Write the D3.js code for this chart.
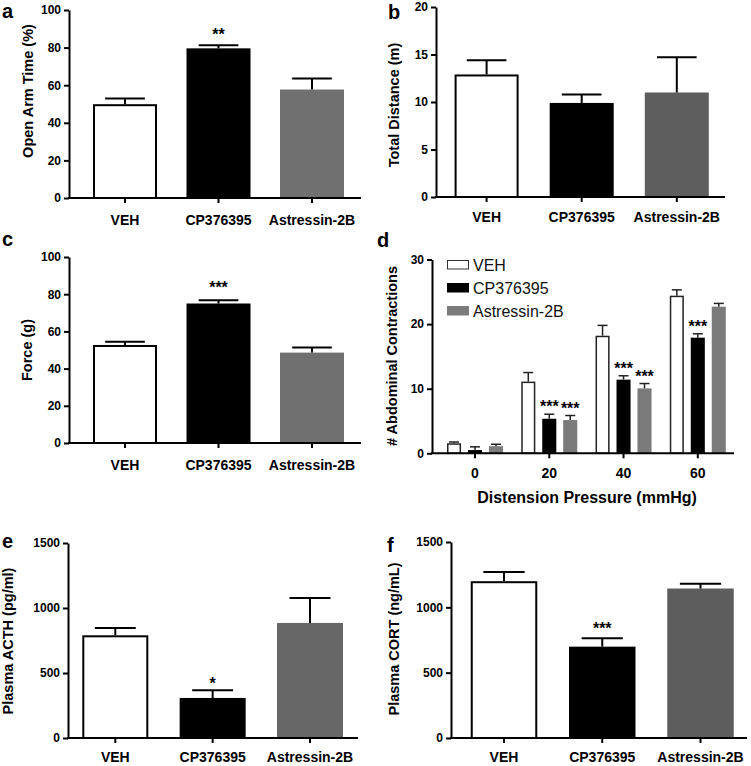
<!DOCTYPE html>
<html>
<head>
<meta charset="utf-8">
<script src="https://cdn.jsdelivr.net/npm/d3@7"></script>
<style>
body { margin: 0; background: #fff; }
svg { display: block; font-family: "Liberation Sans", Arial, sans-serif; }
</style>
</head>
<body>
<svg id="fig" width="751" height="766"></svg>
<script>
// treatment groups
var groups = ["VEH", "CP376395", "Astressin-2B"];

// a - elevated plus maze
var openArmMean = [49.9, 79.6, 57.7];
var openArmSem = [3.0, 1.7, 5.9];
var openArmSig = ["", "**", ""];

// b - locomotion
var distanceMean = [12.9, 9.9, 11.0];
var distanceSem = [1.5, 0.9, 3.7];
var distanceSig = ["", "", ""];

// c - force
var forceMean = [52.7, 75.0, 48.6];
var forceSem = [1.8, 1.8, 2.8];
var forceSig = ["", "***", ""];

// d - visceromotor response
var pressures = ["0", "20", "40", "60"];
var vehContractions = [1.55, 11.1, 18.2, 24.4];
var vehContractionsSem = [0.2, 1.4, 1.6, 0.9];
var cpContractions = [0.5, 5.35, 11.4, 17.9];
var cpContractionsSem = [0.5, 0.7, 0.6, 0.6];
var astContractions = [1.1, 5.15, 10.05, 22.7];
var astContractionsSem = [0.3, 0.7, 0.75, 0.5];
var vehContractionsSig = ["", "", "", ""];
var cpContractionsSig = ["", "***", "***", "***"];
var astContractionsSig = ["", "***", "***", ""];

// e - ACTH
var acthMean = [790, 308, 885];
var acthSem = [56, 59, 192];
var acthSig = ["", "*", ""];

// f - CORT
var cortMean = [1200, 699, 1144];
var cortSem = [71, 64, 36];
var cortSig = ["", "***", ""];

// tick values
var ticksPercent = [0, 20, 40, 60, 80, 100];
var ticksDistance = [0, 5, 10, 15, 20];
var ticksContractions = [0, 10, 20, 30];
var ticksHormone = [0, 500, 1000, 1500];

var svg = d3.select("#fig");
svg.append("rect").attr("width", 751).attr("height", 766).attr("fill", "#fff");

var boldFont = function(sel, size) {
  sel.attr("font-weight", "bold").attr("font-size", size).attr("fill", "#000");
};

var yAxisDraw = function(g, y, axisX, ticks) {
  var ax = g.append("g")
    .attr("transform", "translate(" + axisX + ",0)")
    .call(d3.axisLeft(y).tickValues(ticks).tickFormat(d3.format("d"))
      .tickSize(5).tickSizeOuter(0).tickPadding(3));
  ax.attr("font-family", null);
  ax.selectAll("path, line").attr("stroke", "#000").attr("stroke-width", 2);
  ax.selectAll("text").call(boldFont, "12px");
};

var barPanel = function(p)
{
  var g = svg.append("g");
  var step = (p.c2 - p.c0) / 2;
  var pad = 1 - p.barW / step;
  var x = d3.scaleBand()
    .domain(groups)
    .range([p.c0 - step / 2, p.c2 + step / 2])
    .paddingInner(pad)
    .paddingOuter(pad / 2);
  var y = d3.scaleLinear().domain([0, p.yMax]).range([p.yZero, p.yTop]);

  var rows = groups.map(function(d, i) {
    return {name: d, mean: p.mean[i], sem: p.sem[i], sig: p.sig[i], i: i};
  });
  var fills = ["#fff", "#000", p.grey];

  g.selectAll("rect.bar")
    .data(rows)
    .enter()
    .append("rect")
    .attr("class", "bar")
    .attr("x", function(d) { return x(d.name) + (d.i == 0 ? 1 : 0); })
    .attr("width", function(d) { return x.bandwidth() - (d.i == 0 ? 2 : 0); })
    .attr("y", function(d) { return y(d.mean) + (d.i == 0 ? 1 : 0); })
    .attr("height", function(d) { return y(0) - y(d.mean) - (d.i == 0 ? 1 : 0); })
    .attr("fill", function(d) { return fills[d.i]; })
    .attr("stroke", function(d) { return d.i == 0 ? "#000" : "none"; })
    .attr("stroke-width", 2);

  var cap = x.bandwidth() * 0.31;
  var err = g.selectAll("g.err")
    .data(rows)
    .enter()
    .append("g")
    .attr("class", "err")
    .attr("stroke", "#000")
    .attr("stroke-width", 2);
  err.append("line")
    .attr("x1", function(d) { return x(d.name) + x.bandwidth() / 2; })
    .attr("x2", function(d) { return x(d.name) + x.bandwidth() / 2; })
    .attr("y1", function(d) { return y(d.mean); })
    .attr("y2", function(d) { return y(d.mean + d.sem); });
  err.append("line")
    .attr("x1", function(d) { return x(d.name) + x.bandwidth() / 2 - cap; })
    .attr("x2", function(d) { return x(d.name) + x.bandwidth() / 2 + cap; })
    .attr("y1", function(d) { return y(d.mean + d.sem); })
    .attr("y2", function(d) { return y(d.mean + d.sem); });

  g.selectAll("text.sig")
    .data(rows.filter(function(d) { return d.sig; }))
    .enter()
    .append("text")
    .attr("class", "sig")
    .text(function(d) { return d.sig; })
    .attr("x", function(d) { return x(d.name) + x.bandwidth() / 2; })
    .attr("y", function(d) { return y(d.mean + d.sem) - p.sigGap; })
    .attr("text-anchor", "middle")
    .call(boldFont, "16px");

  yAxisDraw(g, y, p.axisX, p.ticks);

  var xa = g.append("g")
    .attr("transform", "translate(0," + p.yZero + ")")
    .call(d3.axisBottom(x).tickSize(5).tickSizeOuter(0).tickPadding(p.xPad));
  xa.attr("font-family", null);
  xa.select(".domain").remove();
  xa.selectAll("line").attr("stroke", "#000").attr("stroke-width", 2);
  xa.selectAll("text").call(boldFont, "14px");
  g.append("line")
    .attr("x1", p.axisX - 1).attr("x2", p.axisEnd)
    .attr("y1", p.yZero).attr("y2", p.yZero)
    .attr("stroke", "#000").attr("stroke-width", 2);

  g.append("text")
    .text(p.title)
    .attr("transform", "translate(" + p.titleX + "," + p.titleY + ") rotate(-90)")
    .attr("text-anchor", "middle")
    .call(boldFont, "14.5px");

  g.append("text")
    .text(p.letter)
    .attr("x", p.letterX).attr("y", p.letterY)
    .call(boldFont, "20px");
};

barPanel({letter: "a", letterX: 2, letterY: 18, axisX: 69, axisEnd: 361, yTop: 10, yZero: 198,
  yMax: 100, ticks: ticksPercent, c0: 125, c2: 312, barW: 64, title: "Open Arm Time (%)",
  titleX: 33, titleY: 91, mean: openArmMean, sem: openArmSem, sig: openArmSig,
  grey: "#707070", xPad: 12, sigGap: 5});

barPanel({letter: "b", letterX: 388, letterY: 19, axisX: 436, axisEnd: 725, yTop: 7, yZero: 197,
  yMax: 20, ticks: ticksDistance, c0: 486.6, c2: 676.8, barW: 64, title: "Total Distance (m)",
  titleX: 399, titleY: 105, mean: distanceMean, sem: distanceSem, sig: distanceSig,
  grey: "#5e5e5e", xPad: 10, sigGap: 5});

barPanel({letter: "c", letterX: 2, letterY: 246, axisX: 69, axisEnd: 361, yTop: 257, yZero: 443,
  yMax: 100, ticks: ticksPercent, c0: 125, c2: 312, barW: 64, title: "Force  (g)",
  titleX: 32, titleY: 350, mean: forceMean, sem: forceSem, sig: forceSig,
  grey: "#707070", xPad: 12, sigGap: 7});

barPanel({letter: "e", letterX: 2, letterY: 548, axisX: 68, axisEnd: 358, yTop: 543, yZero: 738,
  yMax: 1500, ticks: ticksHormone, c0: 115.3, c2: 310, barW: 66, title: "Plasma ACTH (pg/ml)",
  titleX: 13, titleY: 641, mean: acthMean, sem: acthSem, sig: acthSig,
  grey: "#676767", xPad: 9, sigGap: 1});

barPanel({letter: "f", letterX: 387, letterY: 552, axisX: 451, axisEnd: 747, yTop: 542, yZero: 738,
  yMax: 1500, ticks: ticksHormone, c0: 504, c2: 700.5, barW: 66.5, title: "Plasma CORT (ng/mL)",
  titleX: 399, titleY: 639, mean: cortMean, sem: cortSem, sig: cortSig,
  grey: "#5d5d5d", xPad: 9, sigGap: 4});

// panel d - grouped bars
var drawPanelD = function()
{
  var g = svg.append("g");
  var axisX = 432, axisEnd = 734, yZero = 453.3, yTop = 259.5;
  var c0 = 475, c3 = 697.8, barW = 56;
  var step = (c3 - c0) / 3;
  var pad = 1 - barW / step;

  var x0 = d3.scaleBand().domain(pressures)
    .range([c0 - step / 2, c3 + step / 2])
    .paddingInner(pad).paddingOuter(pad / 2);
  var x1 = d3.scaleBand().domain(groups)
    .range([0, x0.bandwidth()])
    .paddingInner(0.33).paddingOuter(0);
  var y = d3.scaleLinear().domain([0, 30]).range([yZero, yTop]);

  var series = [
    {name: groups[0], vals: vehContractions, sem: vehContractionsSem, sig: vehContractionsSig, fill: "#fff"},
    {name: groups[1], vals: cpContractions, sem: cpContractionsSem, sig: cpContractionsSig, fill: "#000"},
    {name: groups[2], vals: astContractions, sem: astContractionsSem, sig: astContractionsSig, fill: "#7b7b7b"}
  ];
  var cells = [];
  series.forEach(function(s, si) {
    pressures.forEach(function(p, pi) {
      cells.push({series: s.name, si: si, p: p, v: s.vals[pi], e: s.sem[pi], sig: s.sig[pi], fill: s.fill});
    });
  });
  var cx = function(d) { return x0(d.p) + x1(d.series) + x1.bandwidth() / 2; };

  g.selectAll("rect.bar")
    .data(cells)
    .enter()
    .append("rect")
    .attr("class", "bar")
    .attr("x", function(d) { return x0(d.p) + x1(d.series) + (d.si == 0 ? 0.75 : 0); })
    .attr("width", function(d) { return x1.bandwidth() - (d.si == 0 ? 1.5 : 0); })
    .attr("y", function(d) { return y(d.v) + (d.si == 0 ? 0.75 : 0); })
    .attr("height", function(d) { return y(0) - y(d.v) - (d.si == 0 ? 0.75 : 0); })
    .attr("fill", function(d) { return d.fill; })
    .attr("stroke", function(d) { return d.si == 0 ? "#222" : "none"; })
    .attr("stroke-width", 1.5);

  var err = g.selectAll("g.err")
    .data(cells)
    .enter()
    .append("g")
    .attr("class", "err")
    .attr("stroke", "#222")
    .attr("stroke-width", 1.5);
  err.append("line")
    .attr("x1", cx).attr("x2", cx)
    .attr("y1", function(d) { return y(d.v); })
    .attr("y2", function(d) { return y(d.v + d.e); });
  err.append("line")
    .attr("x1", function(d) { return cx(d) - 5; })
    .attr("x2", function(d) { return cx(d) + 5; })
    .attr("y1", function(d) { return y(d.v + d.e); })
    .attr("y2", function(d) { return y(d.v + d.e); });

  g.selectAll("text.sig")
    .data(cells.filter(function(d) { return d.sig; }))
    .enter()
    .append("text")
    .attr("class", "sig")
    .text(function(d) { return d.sig; })
    .attr("x", cx)
    .attr("y", function(d) { return y(d.v + d.e) - 2; })
    .attr("text-anchor", "middle")
    .call(boldFont, "16px");

  yAxisDraw(g, y, axisX, ticksContractions);

  var xa = g.append("g")
    .attr("transform", "translate(0," + yZero + ")")
    .call(d3.axisBottom(x0).tickSize(5).tickSizeOuter(0).tickPadding(10));
  xa.attr("font-family", null);
  xa.select(".domain").remove();
  xa.selectAll("line").attr("stroke", "#000").attr("stroke-width", 2);
  xa.selectAll("text").call(boldFont, "14px");
  g.append("line")
    .attr("x1", axisX - 1).attr("x2", axisEnd)
    .attr("y1", yZero).attr("y2", yZero)
    .attr("stroke", "#000").attr("stroke-width", 2);

  g.append("text")
    .text("Distension Pressure (mmHg)")
    .attr("x", 587).attr("y", 503)
    .attr("text-anchor", "middle")
    .call(boldFont, "16px");

  g.append("text")
    .text("# Abdominal Contractions")
    .attr("transform", "translate(397,356) rotate(-90)")
    .attr("text-anchor", "middle")
    .call(boldFont, "14.5px");

  g.append("text")
    .text("d")
    .attr("x", 377).attr("y", 247)
    .call(boldFont, "20px");

  var legend = g.append("g").attr("class", "legend");
  legend.selectAll("rect")
    .data(series)
    .enter()
    .append("rect")
    .attr("x", 447.5)
    .attr("y", function(d, i) { return 260.5 + 23 * i; })
    .attr("width", 21)
    .attr("height", 8.5)
    .attr("fill", function(d) { return d.fill; })
    .attr("stroke", function(d, i) { return i == 0 ? "#333" : d.fill; })
    .attr("stroke-width", 1);
  legend.selectAll("text")
    .data(series)
    .enter()
    .append("text")
    .text(function(d) { return d.name; })
    .attr("x", 473)
    .attr("y", function(d, i) { return 270.5 + 23 * i; })
    .attr("font-size", "16px")
    .attr("fill", "#111");
};

drawPanelD();
</script>
</body>
</html>
